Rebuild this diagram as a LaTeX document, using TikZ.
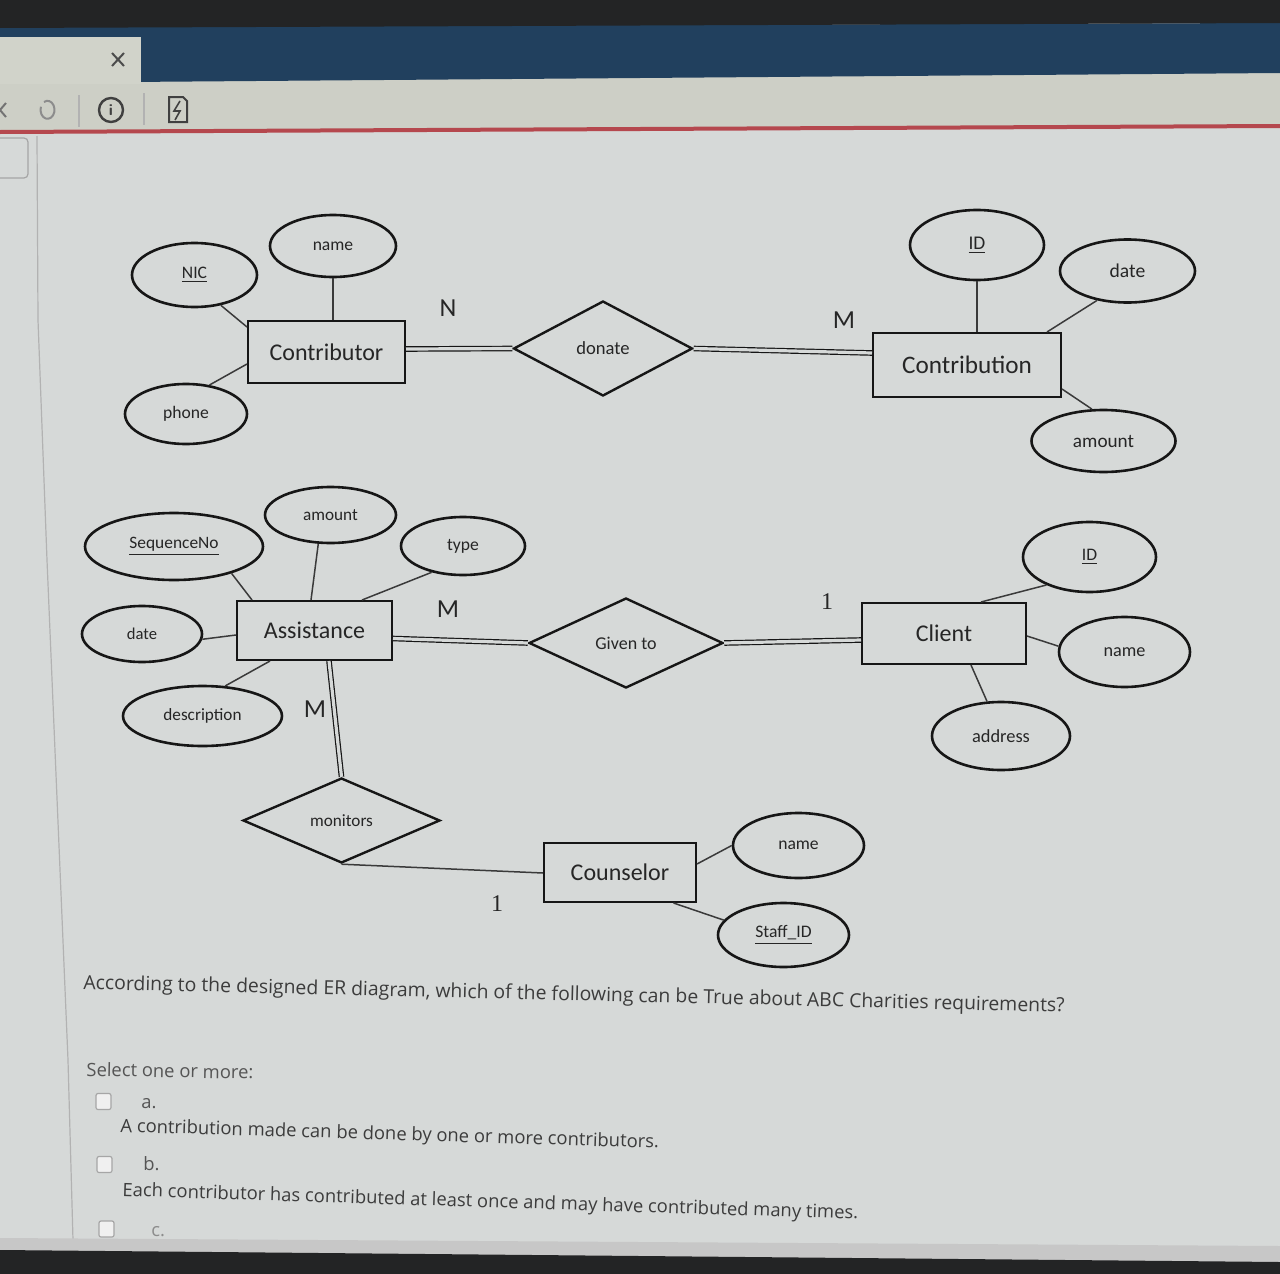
\documentclass[tikz,border=0pt]{standalone}
\usepackage{fontspec}
\setmainfont{Carlito}
\newfontfamily\qfont{Open Sans}
\newfontfamily\numfont{Liberation Serif}
\usetikzlibrary{shapes.geometric,calc}
\definecolor{pagebg}{HTML}{D6D9D8}
\definecolor{topdark}{HTML}{232425}
\definecolor{barblue}{HTML}{21405E}
\definecolor{toolbar}{HTML}{CDCFC6}
\definecolor{redline}{HTML}{B5484E}
\definecolor{ink}{HTML}{161616}
\definecolor{lineC}{HTML}{3A3A3A}
\definecolor{textc}{HTML}{262626}
\definecolor{qtext}{HTML}{3C3C3C}
\definecolor{atext}{HTML}{555555}
\tikzset{
  ent/.style={rectangle, draw=ink, line width=1pt, fill=pagebg, inner sep=0pt,
    font=\fontsize{12}{14}\selectfont, text=textc},
  attr/.style={ellipse, draw=ink, line width=1.3pt, fill=pagebg, inner sep=0pt,
    font=\fontsize{8.8}{10}\selectfont, text=textc},
  rel/.style={diamond, draw=ink, line width=1.2pt, fill=pagebg, inner sep=0pt,
    font=\fontsize{9}{11}\selectfont, text=textc},
  conn/.style={draw=lineC, line width=0.75pt},
  dbl/.style={draw=ink, line width=0.6pt, double=pagebg, double distance=1.6pt},
  card/.style={font=\fontsize{13}{15}\selectfont, text=textc, inner sep=0pt},
  onecard/.style={font=\numfont\fontsize{12}{14}\selectfont, text=textc, inner sep=0pt},
  qline/.style={font=\qfont\fontsize{9.7}{11}\selectfont, text=qtext, inner sep=0pt, anchor=base west},
  aline/.style={font=\qfont\fontsize{9.2}{10}\selectfont, text=atext, inner sep=0pt, anchor=base west},
  chk/.style={rectangle, rounded corners=1pt, draw=black!35, fill=black!6, line width=0.6pt,
    minimum width=7.5pt, minimum height=8pt, inner sep=0pt},
}
\begin{document}
\begin{tikzpicture}[x=0.5pt,y=-0.5pt]
\useasboundingbox (0,0) rectangle (1280,1274);
% ---------- screen frame ----------
\fill[pagebg] (0,0) rectangle (1280,1274);
\fill[toolbar] (0,80) -- (1280,72) -- (1280,127) -- (0,133) -- cycle;
\fill[barblue] (0,27) -- (1280,23) -- (1280,73) -- (0,83) -- cycle;
\fill[topdark] (0,0) -- (1280,0) -- (1280,23) -- (0,28) -- cycle;
\fill[toolbar!92!white] (0,37) rectangle (141,84);
\draw[redline, line width=2pt] (0,132) -- (1280,126);
\draw[black!70, line width=1pt] (112,53) -- (124,66) (124,53) -- (112,66);
% toolbar icons
\draw[black!55, line width=1pt] (6,103) -- (0,110) -- (6,117);
\draw[black!45, line width=1pt] (44,102) arc[start angle=120, end angle=-200, x radius=7, y radius=-9];
\draw[black!30, line width=0.6pt] (79,95) -- (79,127);
\node[circle, draw=black!75, line width=1.2pt, minimum size=12pt, inner sep=0pt,
  font=\sffamily\bfseries\fontsize{8}{8}\selectfont, text=black!75] (info) at (111,110) {i};
\draw[black!30, line width=0.6pt] (144,93) -- (144,125);
\draw[black!75, line width=1pt] (169,97) -- (183,97) -- (187,101) -- (187,122) -- (169,122) -- cycle;
\draw[black!75, line width=0.8pt] (180,101) -- (174,111) -- (180,111) -- (175,120);
% left strip
\draw[black!35, line width=0.6pt, rounded corners=2pt] (-4,138) -- (28,138) -- (28,178) -- (-4,178);
\draw[black!30, line width=0.6pt] (37,136) -- (38,320) -- (47,560) -- (68,1060) -- (73,1240);
% bottom bezel
\fill[black!22] (0,1238) -- (1280,1246) -- (1280,1274) -- (0,1274) -- cycle;
\fill[topdark] (0,1250) -- (1280,1262) -- (1280,1274) -- (0,1274) -- cycle;

% ---------- entities ----------
\node[ent, minimum width=78.5pt, minimum height=31pt] (contrib) at (326.5,352) {Contributor};
\node[ent, minimum width=94pt, minimum height=32pt, font=\fontsize{12.6}{14}\selectfont] (contrn) at (967,365) {Contribution};
\node[ent, minimum width=77.5pt, minimum height=29.5pt] (assist) at (314.5,630.5) {Assistance};
\node[ent, minimum width=82pt, minimum height=30.5pt] (client) at (944,633.5) {Client};
\node[ent, minimum width=76pt, minimum height=29.5pt] (couns) at (620,872.5) {Counselor};

% ---------- relationships ----------
\node[rel, minimum width=89.5pt, minimum height=47.5pt, font=\fontsize{9.3}{11}\selectfont] (donate) at (603,348.5) {donate};
\node[rel, minimum width=97pt, minimum height=45pt] (given) at (626,643) {Given to};
\node[rel, minimum width=98.5pt, minimum height=42.5pt, font=\fontsize{8.6}{10}\selectfont] (monit) at (341.5,820.5) {monitors};

% ---------- attributes ----------
\node[attr, minimum width=62.5pt, minimum height=32pt] (nic) at (194.5,275) {\underline{NIC}};
\node[attr, minimum width=63pt, minimum height=31pt] (cname) at (333,246) {name};
\node[attr, minimum width=61pt, minimum height=30pt] (phone) at (186,414) {phone};
\node[attr, minimum width=67pt, minimum height=35pt, font=\fontsize{9.7}{11}\selectfont] (cid) at (977,245) {\underline{ID}};
\node[attr, minimum width=67.5pt, minimum height=31.5pt, font=\fontsize{9.8}{11}\selectfont] (cdate) at (1127.5,271) {date};
\node[attr, minimum width=72pt, minimum height=31pt, font=\fontsize{9.6}{11}\selectfont] (camount) at (1103.5,441) {amount};
\node[attr, minimum width=89pt, minimum height=33.5pt, font=\fontsize{8.7}{10}\selectfont] (seq) at (174,546.5) {\underline{SequenceNo}};
\node[attr, minimum width=65.5pt, minimum height=28pt, font=\fontsize{8.6}{10}\selectfont] (aamount) at (330.5,515) {amount};
\node[attr, minimum width=62pt, minimum height=29pt] (atype) at (463,546) {type};
\node[attr, minimum width=60pt, minimum height=28pt, font=\fontsize{8.3}{10}\selectfont] (adate) at (142,634) {date};
\node[attr, minimum width=79.5pt, minimum height=30pt, font=\fontsize{8.6}{10}\selectfont] (adesc) at (202.5,716) {description};
\node[attr, minimum width=66.5pt, minimum height=35pt] (clid) at (1089.5,557) {\underline{ID}};
\node[attr, minimum width=65.5pt, minimum height=35pt, font=\fontsize{9.1}{11}\selectfont] (clname) at (1124.5,652) {name};
\node[attr, minimum width=69pt, minimum height=34pt, font=\fontsize{9.2}{11}\selectfont] (claddr) at (1001,736) {address};
\node[attr, minimum width=65.5pt, minimum height=32.5pt] (coname) at (798.5,845.5) {name};
\node[attr, minimum width=65.5pt, minimum height=32pt] (costaff) at (783.5,935) {\underline{Staff\_ID}};

% ---------- attribute connectors ----------
\draw[conn] (nic.-49) -- ($(contrib.north west)+(0,7)$);
\draw[conn] (cname.south) -- (cname.south |- contrib.north);
\draw[conn] (phone.51) -- ($(contrib.north west)+(0,44)$);
\draw[conn] (cid.south) -- (cid.south |- contrn.north);
\draw[conn] (cdate.-136) -- ($(contrn.north east)+(-15,0)$);
\draw[conn] (camount.110) -- ($(contrn.south east)+(0,-9)$);
\draw[conn] (seq.-25) -- ($(assist.north west)+(16,0)$);
\draw[conn] (aamount.-113) -- ($(assist.north west)+(75,0)$);
\draw[conn] (atype.-140) -- ($(assist.north west)+(126,0)$);
\draw[conn] (adate.-5) -- ($(assist.north west)+(0,35)$);
\draw[conn] (adesc.53) -- ($(assist.south west)+(34,0)$);
\draw[conn] (clid.-147) -- ($(client.north west)+(120,0)$);
\draw[conn] (clname.175) -- ($(client.north east)+(0,34)$);
\draw[conn] (claddr.112) -- ($(client.south west)+(110,0)$);
\draw[conn] (coname.west) -- ($(couns.north east)+(0,22)$);
\draw[conn] (costaff.166) -- ($(couns.south east)+(-23.5,0)$);

% ---------- relationship connectors ----------
\draw[dbl] ($(contrib.east)+(0,-3)$) -- (donate.west);
\draw[dbl] (donate.east) -- ($(contrn.west)+(0,-12)$);
\draw[dbl] ($(assist.east)+(0,8)$) -- (given.west);
\draw[dbl] (given.east) -- ($(client.west)+(0,6.5)$);
\draw[dbl] ($(assist.south west)+(93,0)$) -- (monit.north);
\draw[conn] (monit.south) -- ($(couns.north west)+(0,31)$);

% ---------- cardinalities ----------
\node[card] (cN) at (448,308) {N};
\node[card] (cM1) at (844,320) {M};
\node[card] (cM2) at (448,609) {M};
\node[onecard] (c11) at (827,602) {1};
\node[card] (cM3) at (315,709) {M};
\node[onecard] (c12) at (497,904) {1};

% ---------- question ----------
\node[qline, rotate=-1.35] (q) at (83,989) {According to the designed ER diagram, which of the following can be True about ABC Charities requirements?};
\node[aline, rotate=-1.0] (sel) at (86,1076) {Select one or more:};
\node[chk] (boxa) at (103.5,1101.5) {};
\node[aline] (la) at (141,1108) {a.};
\node[aline, text=qtext, rotate=-1.7] (ta) at (120,1132) {A contribution made can be done by one or more contributors.};
\node[chk] (boxb) at (104.5,1164.5) {};
\node[aline] (lb) at (143,1170) {b.};
\node[aline, text=qtext, rotate=-1.8] (tb) at (122,1196) {Each contributor has contributed at least once and may have contributed many times.};
\node[chk] (boxc) at (106.5,1229) {};
\node[aline, text=black!45] (lc) at (151,1236) {c.};
\end{tikzpicture}
\end{document}
